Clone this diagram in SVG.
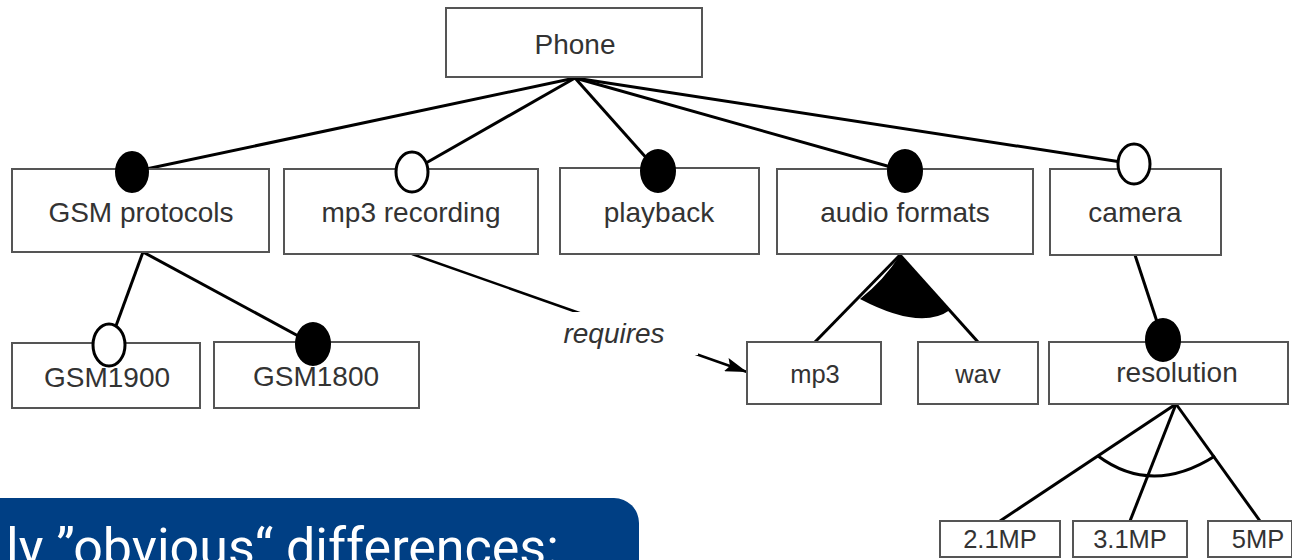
<svg xmlns="http://www.w3.org/2000/svg" width="1292" height="560" viewBox="0 0 1292 560">
<style>
.box{fill:#fff;stroke:#555;stroke-width:2}
.lbl{font-family:"Liberation Sans",Arial,sans-serif;font-size:28px;fill:#333;text-anchor:middle}
.sm{font-size:25.5px}
.ln{stroke:#000;stroke-width:3;fill:none}
.fc{fill:#000;stroke:#000;stroke-width:2}
.oc{fill:#fff;stroke:#000;stroke-width:3}
</style>
<defs>
<marker id="arr" viewBox="0 0 22 14" refX="22" refY="7" markerWidth="22" markerHeight="14" markerUnits="userSpaceOnUse" orient="auto">
<path d="M0,0 L22,7 L0,14 L4,7 Z" fill="#000"/>
</marker>
</defs>
<rect width="1292" height="560" fill="#fff"/>
<g id="connectors">
<line class="ln" x1="575" y1="78" x2="132" y2="172"/>
<line class="ln" x1="575" y1="78" x2="412" y2="171"/>
<line class="ln" x1="575" y1="78" x2="658" y2="171"/>
<line class="ln" x1="575" y1="78" x2="905" y2="171"/>
<line class="ln" x1="575" y1="78" x2="1134" y2="164"/>
<line class="ln" x1="143" y1="252" x2="109" y2="345"/>
<line class="ln" x1="143" y1="252" x2="313" y2="344"/>
<line class="ln" x1="1135" y1="255" x2="1163" y2="340"/>
<line class="ln" x1="900" y1="255" x2="815" y2="342"/>
<line class="ln" x1="900" y1="255" x2="978" y2="342"/>
<path d="M900,255 Q884,280 860,299 Q921,331 950,310 Q925,285 900,255 Z" fill="#000"/>
<line class="ln" x1="1176" y1="404" x2="1000" y2="521"/>
<line class="ln" x1="1176" y1="404" x2="1130" y2="521"/>
<line class="ln" x1="1176" y1="404" x2="1260" y2="521"/>
<path class="ln" d="M1098,456 Q1152,496 1215,456"/>
<line class="ln" x1="412" y1="254" x2="747" y2="372" style="stroke-width:2.5" marker-end="url(#arr)"/>
<rect x="530" y="312" width="168" height="43" fill="#fff"/>
<text class="lbl" x="614" y="343" font-style="italic">requires</text>
</g>
<g id="phone"><rect class="box" x="446" y="8" width="256" height="69"/><text class="lbl" x="575" y="54" font-size="32">Phone</text></g>
<g id="gsm-protocols"><rect class="box" x="12" y="169" width="257" height="83"/><text class="lbl" x="141" y="222">GSM protocols</text><ellipse class="fc" cx="132" cy="172" rx="16" ry="20"/></g>
<g id="mp3-recording"><rect class="box" x="284" y="169" width="254" height="85"/><text class="lbl" x="411" y="222">mp3 recording</text><ellipse class="oc" cx="412" cy="172" rx="16" ry="20"/></g>
<g id="playback"><rect class="box" x="560" y="168" width="199" height="86"/><text class="lbl" x="659" y="222">playback</text><ellipse class="fc" cx="658" cy="171" rx="17" ry="21"/></g>
<g id="audio-formats"><rect class="box" x="777" y="169" width="256" height="85"/><text class="lbl" x="905" y="222">audio formats</text><ellipse class="fc" cx="905" cy="171" rx="17" ry="21"/></g>
<g id="camera"><rect class="box" x="1050" y="169" width="171" height="86"/><text class="lbl" x="1135" y="222">camera</text><ellipse class="oc" cx="1134" cy="164" rx="16" ry="20"/></g>
<g id="gsm1900"><rect class="box" x="12" y="343" width="188" height="65"/><text class="lbl" x="107" y="387">GSM1900</text><ellipse class="oc" cx="109" cy="345" rx="16" ry="21"/></g>
<g id="gsm1800"><rect class="box" x="214" y="342" width="205" height="66"/><text class="lbl" x="316" y="386">GSM1800</text><ellipse class="fc" cx="313" cy="344" rx="17" ry="21"/></g>
<g id="mp3"><rect class="box" x="747" y="342" width="134" height="62"/><text class="lbl sm" x="815" y="383">mp3</text></g>
<g id="wav"><rect class="box" x="918" y="342" width="120" height="62"/><text class="lbl sm" x="978" y="383">wav</text></g>
<g id="resolution"><rect class="box" x="1049" y="342" width="239" height="62"/><text class="lbl" x="1177" y="382">resolution</text><ellipse class="fc" cx="1163" cy="340" rx="17" ry="21"/></g>
<g id="mp21"><rect class="box" x="940" y="521" width="120" height="36"/><text class="lbl sm" x="1000" y="548">2.1MP</text></g>
<g id="mp31"><rect class="box" x="1073" y="521" width="114" height="36"/><text class="lbl sm" x="1130" y="548">3.1MP</text></g>
<g id="mp5"><rect class="box" x="1208" y="521" width="84" height="36"/><text class="lbl sm" x="1258" y="548">5MP</text></g>
<g id="banner">
<rect x="-40" y="498" width="679" height="120" rx="25" fill="#003F84"/>
<text x="6" y="565" font-family="Roboto,'Liberation Sans',sans-serif" font-size="52" fill="#fff">ly ”obvious“ differences:</text>
</g>
</svg>
